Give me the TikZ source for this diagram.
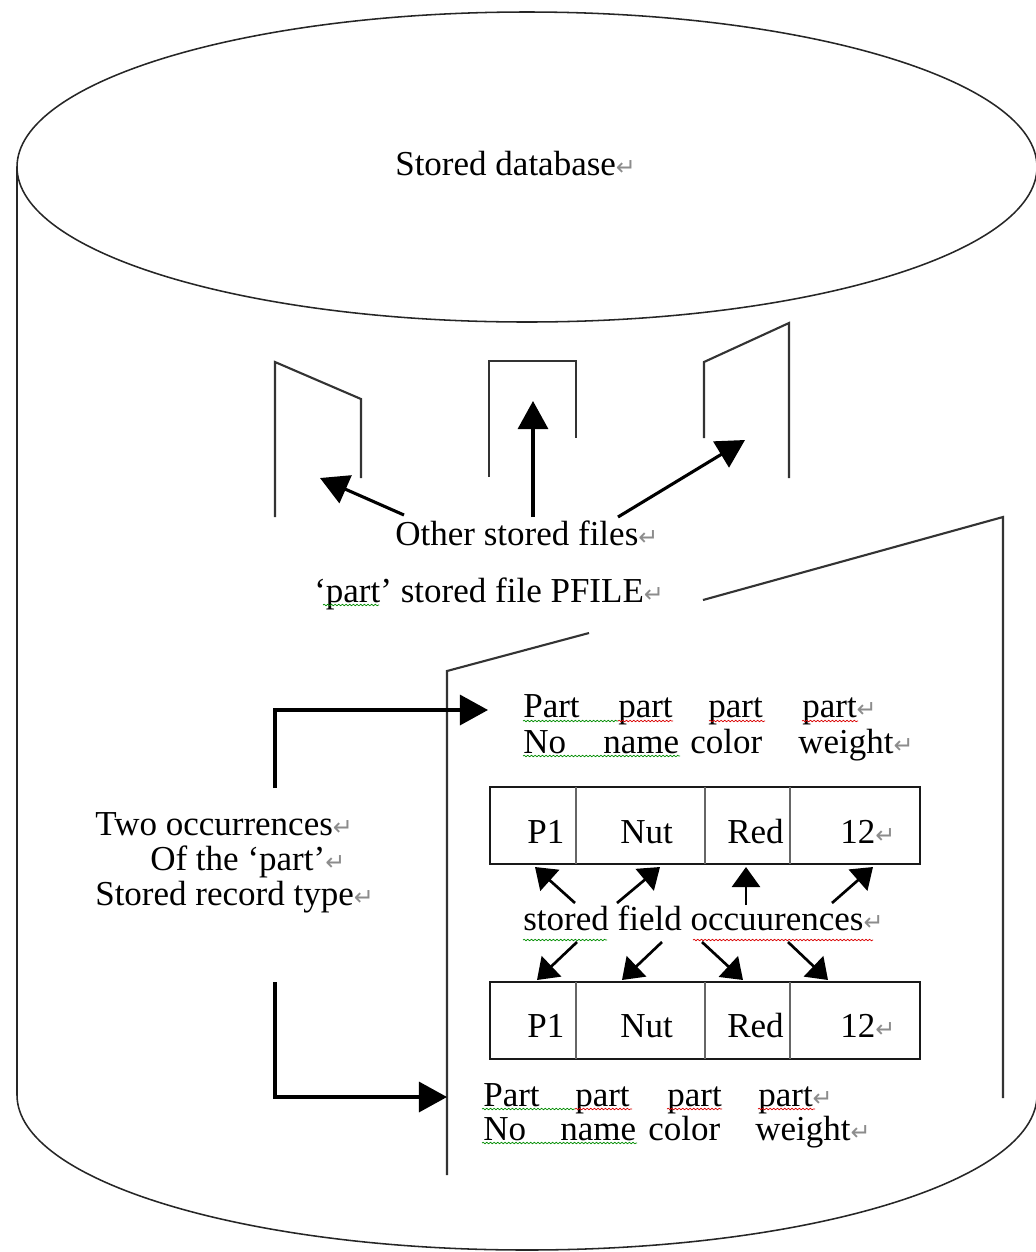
\documentclass[tikz,border=0pt]{standalone}
\usepackage{fontspec}
\setmainfont{Liberation Serif}
\newfontfamily\symfont{DejaVu Sans}
\usetikzlibrary{arrows.meta,decorations.pathmorphing}

% grey paragraph mark shown after each line of text
\newcommand\pmark{{\color{black!45}\symfont\fontsize{17}{17}\selectfont ↵}}

\tikzset{
  outline/.style={line width=1.1pt, draw=black!85},
  filebox/.style={line width=1.5pt, draw=black!80},
  bigarrow/.style={line width=2.2pt, -{Triangle[length=0.7cm,width=0.75cm]}},
  smallarrow/.style={line width=1.9pt, -{Triangle[length=0.5cm,width=0.7cm]}},
  lbl/.style={inner sep=0pt, anchor=base west, font=\fontsize{24.9}{30}\selectfont},
  cellbox/.style={line width=1.3pt, draw=black!90},
  divider/.style={line width=1.3pt, draw=black!60},
  spellg/.style={draw=green!55!black, line width=0.5pt, decorate,
                 decoration={snake, amplitude=0.55pt, segment length=2.6pt}},
  spellr/.style={spellg, draw=red!85!black},
}

\begin{document}
\begin{tikzpicture}[x=0.025cm, y=-0.025cm]
\useasboundingbox (0,0) rectangle (1036,1252);

% ---------- database cylinder ----------
\begin{scope}
  \clip (0,0) rectangle (1036,1252);
  \draw[outline] (527,167) ellipse [x radius=510, y radius=155];
  \draw[outline] (17,167) -- (17,1095)
        arc [start angle=180, end angle=0, x radius=510, y radius=155]
        -- (1037,167);
\end{scope}
\node[lbl] (db) at (395,175) {Stored database\pmark};

% ---------- other stored files ----------
\draw[filebox] (275,517) -- (275,362) -- (361,399) -- (361,478);
\draw[filebox] (489,477) -- (489,361) -- (576,361) -- (576,438);
\draw[filebox] (704,438) -- (704,362) -- (789,323) -- (789,478);

\node[lbl] (other) at (395,545) {Other stored files\pmark};
\coordinate (oA) at (404,515);  \coordinate (tA) at (320,478);
\coordinate (oB) at (533,517);  \coordinate (tB) at (533,401);
\coordinate (oC) at (618,517);  \coordinate (tC) at (745,440);
\draw[bigarrow] (oA) -- (tA);
\draw[bigarrow] (oB) -- (tB);
\draw[bigarrow] (oC) -- (tC);

% ---------- the PFILE stored file ----------
\node[lbl] (pfile) at (314,602) {‘part’ stored file PFILE\pmark};
\draw[spellg] (323,605) -- (379,605);
\draw[filebox] (447,1175) -- (447,671) -- (589,633);
\draw[filebox] (703,600) -- (1003,517) -- (1003,1098);

% ---------- left annotation with bracket arrows ----------
\node[lbl] (two1) at (95,835) {Two occurrences\pmark};
\node[lbl] (two2) at (150,870) {Of the ‘part’\pmark};
\node[lbl] (two3) at (95,905) {Stored record type\pmark};
\coordinate (brA) at (275,788);  \coordinate (tipA) at (488,710);
\coordinate (brB) at (275,982);  \coordinate (tipB) at (447,1097);
\draw[bigarrow] (brA) |- (tipA);
\draw[bigarrow] (brB) |- (tipB);

% ---------- field headings, first record ----------
\node[lbl] (h1a) at (523,717) {Part};
\node[lbl] (h1b) at (618,717) {part};
\node[lbl] (h1c) at (708,717) {part};
\node[lbl] (h1d) at (802,717) {part\pmark};
\node[lbl] (h2a) at (523,753) {No};
\node[lbl] (h2b) at (603,753) {name};
\node[lbl] (h2c) at (690,753) {color};
\node[lbl] (h2d) at (798,753) {weight\pmark};
\draw[spellg] (523,721) -- (618,721);
\draw[spellr] (618,721) -- (673,721);
\draw[spellr] (709,721) -- (765,721);
\draw[spellr] (802,721) -- (858,721);
\draw[spellg] (523,756) -- (680,756);

% ---------- record occurrence 1 ----------
\draw[cellbox] (490,787) rectangle (920,864);
\draw[divider] (576,787) -- (576,864);
\draw[divider] (705,787) -- (705,864);
\draw[divider] (790,787) -- (790,864);
\node[lbl] (r1a) at (527,843) {P1};
\node[lbl] (r1b) at (620,843) {Nut};
\node[lbl] (r1c) at (727,843) {Red};
\node[lbl] (r1d) at (840,843) {12\pmark};

% ---------- stored field occurrences ----------
\node[lbl] (sfo) at (523,930) {stored field occuurences\pmark};
\draw[spellg] (523,940) -- (607,940);
\draw[spellr] (693,940) -- (873,940);

\coordinate (u1) at (575,903);  \coordinate (ut1) at (535,867);
\coordinate (u2) at (617,903);  \coordinate (ut2) at (660,867);
\coordinate (u3) at (746,905);  \coordinate (ut3) at (746,867);
\coordinate (u4) at (832,903);  \coordinate (ut4) at (873,867);
\draw[smallarrow] (u1) -- (ut1);
\draw[smallarrow] (u2) -- (ut2);
\draw[smallarrow] (u3) -- (ut3);
\draw[smallarrow] (u4) -- (ut4);

\coordinate (d1) at (577,942);  \coordinate (dt1) at (537,980);
\coordinate (d2) at (662,942);  \coordinate (dt2) at (622,980);
\coordinate (d3) at (702,942);  \coordinate (dt3) at (743,980);
\coordinate (d4) at (788,942);  \coordinate (dt4) at (828,980);
\draw[smallarrow] (d1) -- (dt1);
\draw[smallarrow] (d2) -- (dt2);
\draw[smallarrow] (d3) -- (dt3);
\draw[smallarrow] (d4) -- (dt4);

% ---------- record occurrence 2 ----------
\draw[cellbox] (490,982) rectangle (920,1059);
\draw[divider] (576,982) -- (576,1059);
\draw[divider] (705,982) -- (705,1059);
\draw[divider] (790,982) -- (790,1059);
\node[lbl] (r2a) at (527,1037) {P1};
\node[lbl] (r2b) at (620,1037) {Nut};
\node[lbl] (r2c) at (727,1037) {Red};
\node[lbl] (r2d) at (840,1037) {12\pmark};

% ---------- field headings, second record ----------
\node[lbl] (g1a) at (483,1106) {Part};
\node[lbl] (g1b) at (575,1106) {part};
\node[lbl] (g1c) at (667,1106) {part};
\node[lbl] (g1d) at (758,1106) {part\pmark};
\node[lbl] (g2a) at (483,1140) {No};
\node[lbl] (g2b) at (560,1140) {name};
\node[lbl] (g2c) at (648,1140) {color};
\node[lbl] (g2d) at (755,1140) {weight\pmark};
\draw[spellg] (482,1109) -- (575,1109);
\draw[spellr] (575,1109) -- (632,1109);
\draw[spellr] (667,1109) -- (722,1109);
\draw[spellr] (758,1109) -- (815,1109);
\draw[spellg] (482,1143) -- (637,1143);
\end{tikzpicture}
\end{document}
